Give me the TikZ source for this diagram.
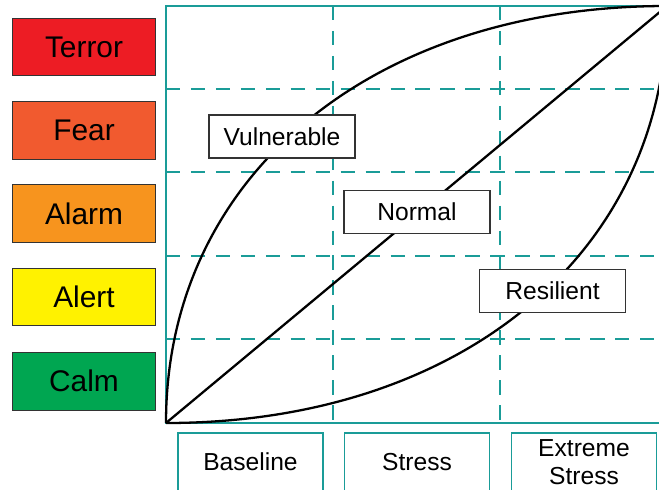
\documentclass[tikz,border=0pt]{standalone}
\usepackage{fontspec}
\setmainfont{Liberation Sans}
\usepackage{tikz}
\usetikzlibrary{positioning}
\usepackage{xcolor}

\definecolor{terrorRed}{HTML}{ED1C24}
\definecolor{fearOrange}{HTML}{F15A2F}
\definecolor{alarmOrange}{HTML}{F7941E}
\definecolor{alertYellow}{HTML}{FFF200}
\definecolor{calmGreen}{HTML}{00A651}
\definecolor{chartTeal}{HTML}{1A9C98}

\begin{document}
\begin{tikzpicture}[
    x=0.02cm, y=-0.02cm,
    levelBox/.style={rectangle, draw=black!80, line width=0.6pt, minimum width=2.87cm, minimum height=1.15cm, font=\fontsize{17}{20}\selectfont},
    curveLabel/.style={rectangle, draw=black!80, fill=white, line width=0.6pt, minimum width=2.92cm, minimum height=0.86cm, font=\fontsize{14}{16}\selectfont},
    stageBox/.style={rectangle, draw=chartTeal, fill=white, line width=1.1pt, minimum width=2.9cm, minimum height=1.17cm, align=center, font=\fontsize{14}{16}\selectfont},
    frameLine/.style={chartTeal, line width=1.1pt},
    gridLine/.style={chartTeal, line width=1pt, dash pattern=on 8.2pt off 6pt},
    riskCurve/.style={black, line width=1.3pt}
]
    \useasboundingbox (0,0) rectangle (659,490);

    % Stress levels
    \node[levelBox, fill=terrorRed]   (terror) at (84,47)    {Terror};
    \node[levelBox, fill=fearOrange]  (fear)   at (84,130.5) {Fear};
    \node[levelBox, fill=alarmOrange] (alarm)  at (84,213.7) {Alarm};
    \node[levelBox, fill=alertYellow] (alert)  at (84,297)   {Alert};
    \node[levelBox, fill=calmGreen]   (calm)   at (84,381.3) {Calm};

    % Grid
    \foreach \gy in {89,172,256,339}
        \draw[gridLine] (166,\gy) -- (667,\gy);
    \foreach \gx in {333,500}
        \draw[gridLine] (\gx,6) -- (\gx,423);

    % Chart frame
    \draw[frameLine] (667,6) -- (166,6) -- (166,423) -- (667,423);

    % Curves
    \coordinate (origin) at (166,423);
    \coordinate (peak)   at (667,6);
    \draw[riskCurve] (origin) .. controls (166,177) and (371,6) .. (peak);
    \draw[riskCurve] (origin) -- (peak);
    \draw[riskCurve] (origin) .. controls (462,423) and (667,252) .. (peak);

    % Curve labels
    \node[curveLabel] (vulnerable) at (282,136.5) {Vulnerable};
    \node[curveLabel] (normal)     at (417,212)   {Normal};
    \node[curveLabel] (resilient)  at (552.5,290.7) {Resilient};

    % Stress stages
    \node[stageBox] (baseline) at (250.5,462) {Baseline};
    \node[stageBox] (stress)   at (417,462)   {Stress};
    \node[stageBox] (extreme)  at (584,462)   {Extreme\\Stress};
\end{tikzpicture}
\end{document}
